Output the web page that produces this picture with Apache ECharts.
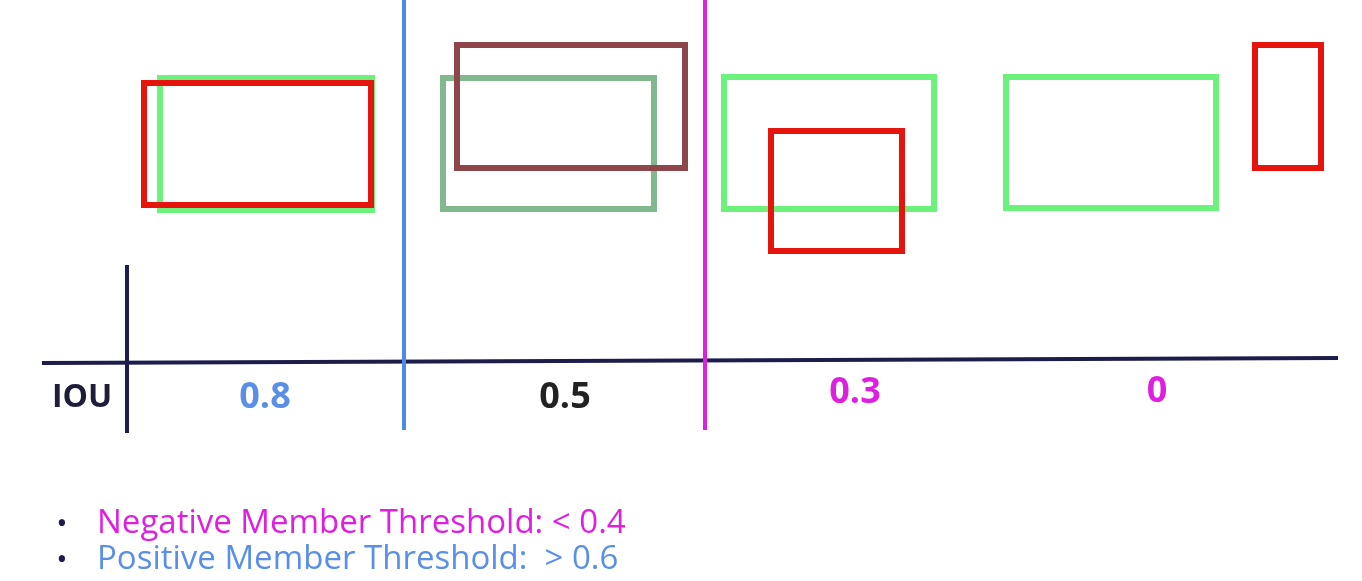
<!DOCTYPE html>
<html>
<head>
<meta charset="UTF-8">
<script src="https://cdn.jsdelivr.net/npm/echarts@6/dist/echarts.min.js"></script>
<style>
  html, body { margin: 0; padding: 0; background: #fff; }
  #main { width: 1362px; height: 581px; }
</style>
</head>
<body>
<div id="main"></div>
<script>
// boxes: [x1, y1, x2, y2, colour]
var boxes = [
  [160, 78, 372, 210, '#6cf27c'],
  [144, 83, 371, 205, '#e5140c'],
  [443, 78, 654, 209, '#82b88e'],
  [457, 45, 685, 168, '#8d4649'],
  [724, 77, 934, 209, '#6cf27c'],
  [771, 131, 902, 251, '#e5140c'],
  [1006, 77, 1216, 208, '#6cf27c'],
  [1255, 45, 1321, 168, '#e5140c']
];
// lines: [x1, y1, x2, y2, colour, width]
var lines = [
  [42, 363, 1338, 358, '#1d1d4d', 4],
  [127, 265, 127, 433, '#1d1d4d', 4],
  [404, 0, 404, 430, '#5088e6', 4],
  [705, 0, 705, 430, '#de1fe0', 4]
];
// labels: [x, y, text, colour, size, weight, align]
var labels = [
  [82, 398, 'IOU', '#1d1d3a', 32, 'bold', 'center'],
  [265, 398, '0.8', '#5a8fe8', 36, 'bold', 'center'],
  [565, 398, '0.5', '#222222', 36, 'bold', 'center'],
  [855, 393, '0.3', '#de1fe0', 36, 'bold', 'center'],
  [1157, 392, '0', '#de1fe0', 36, 'bold', 'center'],
  [62, 524, '•', '#1d1d4d', 30, 'normal', 'center'],
  [97, 524, 'Negative Member Threshold: < 0.4', '#de1fe0', 33, 'normal', 'left'],
  [62, 560, '•', '#1d1d4d', 30, 'normal', 'center'],
  [97, 560, 'Positive Member Threshold:  > 0.6', '#5a8fe8', 33, 'normal', 'left']
];

var chart = echarts.init(document.getElementById('main'));
chart.setOption({
  backgroundColor: '#ffffff',
  animation: false,
  grid: { left: 0, right: 0, top: 0, bottom: 0 },
  xAxis: { type: 'value', min: 0, max: 1362, show: false },
  yAxis: { type: 'value', min: 0, max: 581, inverse: true, show: false },
  series: [
    {
      type: 'custom',
      data: boxes,
      renderItem: function (params, api) {
        var p1 = api.coord([api.value(0), api.value(1)]);
        var p2 = api.coord([api.value(2), api.value(3)]);
        return {
          type: 'rect',
          shape: { x: p1[0], y: p1[1], width: p2[0] - p1[0], height: p2[1] - p1[1] },
          style: { fill: null, stroke: boxes[params.dataIndex][4], lineWidth: 6 }
        };
      }
    },
    {
      type: 'custom',
      data: lines,
      renderItem: function (params, api) {
        var d = lines[params.dataIndex];
        var p1 = api.coord([d[0], d[1]]);
        var p2 = api.coord([d[2], d[3]]);
        return {
          type: 'line',
          shape: { x1: p1[0], y1: p1[1], x2: p2[0], y2: p2[1] },
          style: { stroke: d[4], lineWidth: d[5] }
        };
      }
    },
    {
      type: 'custom',
      data: labels,
      renderItem: function (params, api) {
        var d = labels[params.dataIndex];
        var p = api.coord([d[0], d[1]]);
        return {
          type: 'text',
          x: p[0], y: p[1],
          style: {
            text: d[2], fill: d[3],
            font: d[5] + ' ' + d[4] + 'px "Open Sans", "DejaVu Sans", sans-serif',
            align: d[6], verticalAlign: 'middle'
          }
        };
      }
    }
  ]
});
</script>
</body>
</html>
